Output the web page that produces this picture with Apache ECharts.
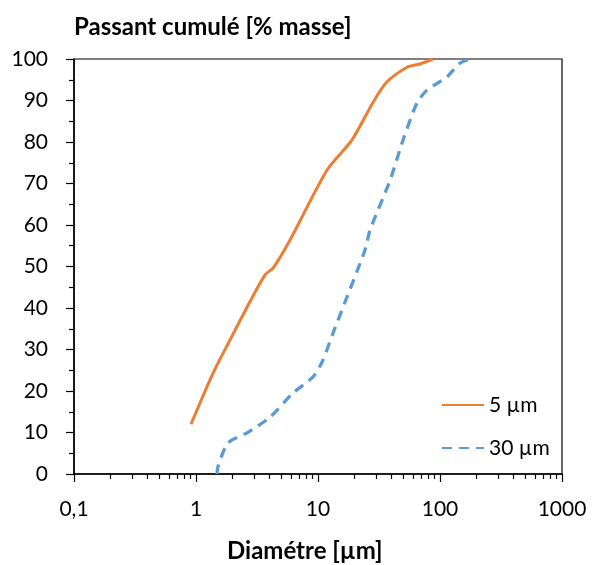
<!DOCTYPE html>
<html><head><meta charset="utf-8">
<script src="https://cdn.jsdelivr.net/npm/echarts@6/dist/echarts.min.js"></script>
<style>html,body{margin:0;padding:0;background:#fff}#c{width:594px;height:565px}</style>
</head><body><div id="c"></div>
<script>
const xTicks = [0.1, 1, 10, 100, 1000];
const xMinorTicks = [0.2,0.3,0.4,0.5,0.6,0.7,0.8,0.9,2,3,4,5,6,7,8,9,20,30,40,50,60,70,80,90,200,300,400,500,600,700,800,900];
const seriesNames = ['5 µm', '30 µm'];
const d5x = [0.91, 1.38, 1.9, 2.62, 3.68, 4.28, 5.9, 11.9, 19, 28.3, 36.8, 53.7, 68.5, 87.6];
const d5y = [12, 24.3, 32.3, 40.2, 48, 49.6, 56.4, 73.3, 80.5, 89.6, 94.5, 98, 98.8, 100];
const d30x = [1.49, 1.51, 1.83, 2.62, 4.04, 6.24, 9.1, 10.8, 13.3, 17.3, 24.3, 26.7, 39, 49.8, 64.8, 78.2, 114, 146, 176];
const d30y = [0, 1.7, 7.5, 9.9, 13.7, 19.5, 23.4, 27, 34, 42.7, 54, 58.8, 70.8, 80.5, 89.4, 92.5, 95.7, 99, 100];

const font = 'Lato, "Open Sans", sans-serif';
const chart = echarts.init(document.getElementById('c'));
const pair = (xs, ys) => xs.map((x, i) => [x, ys[i]]);
const fmt = v => String(v).replace('.', ',');
chart.setOption({
  animation: false,
  title: [
    {text: 'Passant cumulé [% masse]', left: 74, top: 15, padding: 0, textStyle: {fontFamily: font, fontSize: 24, fontWeight: 'bold', color: '#000'}},
    {text: 'Diamétre [µm]', left: 227, top: 539, padding: 0, textStyle: {fontFamily: font, fontSize: 24, fontWeight: 'bold', color: '#000'}}
  ],
  grid: {left: 74, right: 32, top: 59, bottom: 91, show: true, borderColor: '#000', borderWidth: 1.2},
  legend: {
    orient: 'vertical', left: 436, top: 388, itemWidth: 42, itemHeight: 14, itemGap: 19,
    itemStyle: {opacity: 0},
    textStyle: {fontFamily: font, fontSize: 21, color: '#000', lineHeight: 24},
    data: seriesNames
  },
  xAxis: [{
    type: 'log', logBase: 10, min: 0.1, max: 1000,
    axisLine: {lineStyle: {color: '#000', width: 1.5}},
    axisTick: {show: true, length: 8, inside: false, lineStyle: {color: '#000', width: 1.2}, customValues: xTicks},
    axisLabel: {fontFamily: font, fontSize: 21, color: '#000', margin: 25, formatter: fmt, customValues: xTicks},
    splitLine: {show: false}
  }, {
    type: 'log', logBase: 10, min: 0.1, max: 1000, position: 'bottom',
    axisLine: {show: false},
    axisTick: {show: true, length: 5, lineStyle: {color: '#000', width: 1.2}, customValues: xMinorTicks},
    axisLabel: {show: false},
    splitLine: {show: false}
  }],
  yAxis: {
    type: 'value', min: 0, max: 100, interval: 10,
    axisLine: {show: true, lineStyle: {color: '#000', width: 1.5}},
    axisTick: {show: true, length: 8, lineStyle: {color: '#000', width: 1.2}},
    minorTick: {show: true, splitNumber: 2, length: 5, lineStyle: {color: '#000', width: 1.2}},
    axisLabel: {fontFamily: font, fontSize: 21, color: '#000', margin: 26},
    splitLine: {show: false}
  },
  series: [
    {name: seriesNames[0], type: 'line', data: pair(d5x, d5y), symbol: 'none', smooth: 0.25,
     lineStyle: {color: '#ED7D31', width: 3}, itemStyle: {color: '#ED7D31'}},
    {name: seriesNames[1], type: 'line', data: pair(d30x, d30y), symbol: 'none', smooth: 0.25,
     lineStyle: {color: '#5B9BD5', width: 3.3, type: [10, 7]}, itemStyle: {color: '#5B9BD5'}}
  ]
});
</script></body></html>
